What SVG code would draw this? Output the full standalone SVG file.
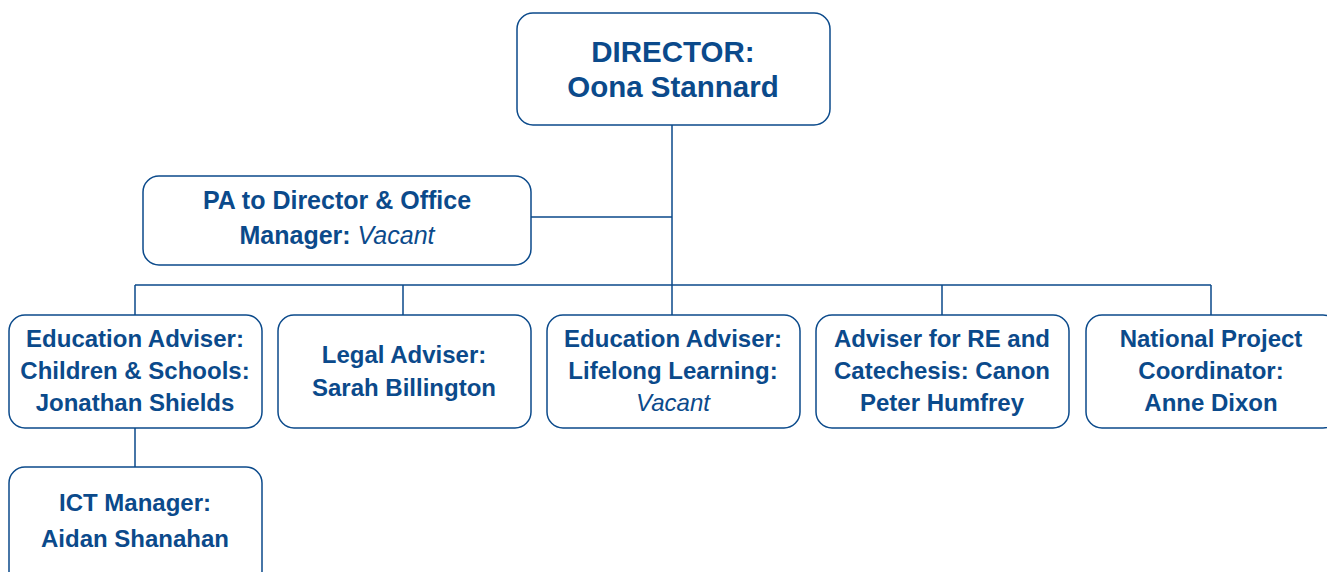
<svg xmlns="http://www.w3.org/2000/svg" width="1327" height="572" viewBox="0 0 1327 572">
<style>
.box{fill:#ffffff;stroke:#0b4a8b;stroke-width:1.5}
.ln{stroke:#0b4a8b;stroke-width:1.5;fill:none}
text{font-family:"Liberation Sans",Arial,sans-serif;font-weight:bold;fill:#0b4a8b;text-anchor:middle;font-size:24px}
.big{font-size:29.5px}
.pa{font-size:25px}
.it{font-style:italic;font-weight:normal}
</style>
<rect width="1327" height="572" fill="#ffffff"/>
<g id="connectors">
<path class="ln" d="M672,125 V315 M531,217 H672 M135,285 H1211 M135,285 V315 M403,285 V315 M942,285 V315 M1211,285 V315 M135,428 V467"/>
</g>
<g id="director">
<rect class="box" x="517" y="13" width="313" height="112" rx="16"/>
<text class="big" x="673" y="62">DIRECTOR:</text>
<text class="big" x="673" y="97">Oona Stannard</text>
</g>
<g id="pa">
<rect class="box" x="143" y="176" width="388" height="89" rx="16"/>
<text class="pa" x="337" y="209">PA to Director &amp; Office</text>
<text class="pa" x="337" y="244">Manager: <tspan class="it">Vacant</tspan></text>
</g>
<g id="edu-children">
<rect class="box" x="9" y="315" width="253" height="113" rx="16"/>
<text x="135" y="347">Education Adviser:</text>
<text x="135" y="379">Children &amp; Schools:</text>
<text x="135" y="411">Jonathan Shields</text>
</g>
<g id="legal">
<rect class="box" x="278" y="315" width="253" height="113" rx="16"/>
<text x="404" y="363">Legal Adviser:</text>
<text x="404" y="396">Sarah Billington</text>
</g>
<g id="edu-lifelong">
<rect class="box" x="547" y="315" width="253" height="113" rx="16"/>
<text x="673" y="347">Education Adviser:</text>
<text x="673" y="379">Lifelong Learning:</text>
<text x="673" y="411" class="it">Vacant</text>
</g>
<g id="re">
<rect class="box" x="816" y="315" width="253" height="113" rx="16"/>
<text x="942" y="347">Adviser for RE and</text>
<text x="942" y="379">Catechesis: Canon</text>
<text x="942" y="411">Peter Humfrey</text>
</g>
<g id="npc">
<rect class="box" x="1086" y="315" width="253" height="113" rx="16"/>
<text x="1211" y="347">National Project</text>
<text x="1211" y="379">Coordinator:</text>
<text x="1211" y="411">Anne Dixon</text>
</g>
<g id="ict">
<rect class="box" x="9" y="467" width="253" height="120" rx="16"/>
<text x="135" y="511">ICT Manager:</text>
<text x="135" y="547">Aidan Shanahan</text>
</g>
</svg>
